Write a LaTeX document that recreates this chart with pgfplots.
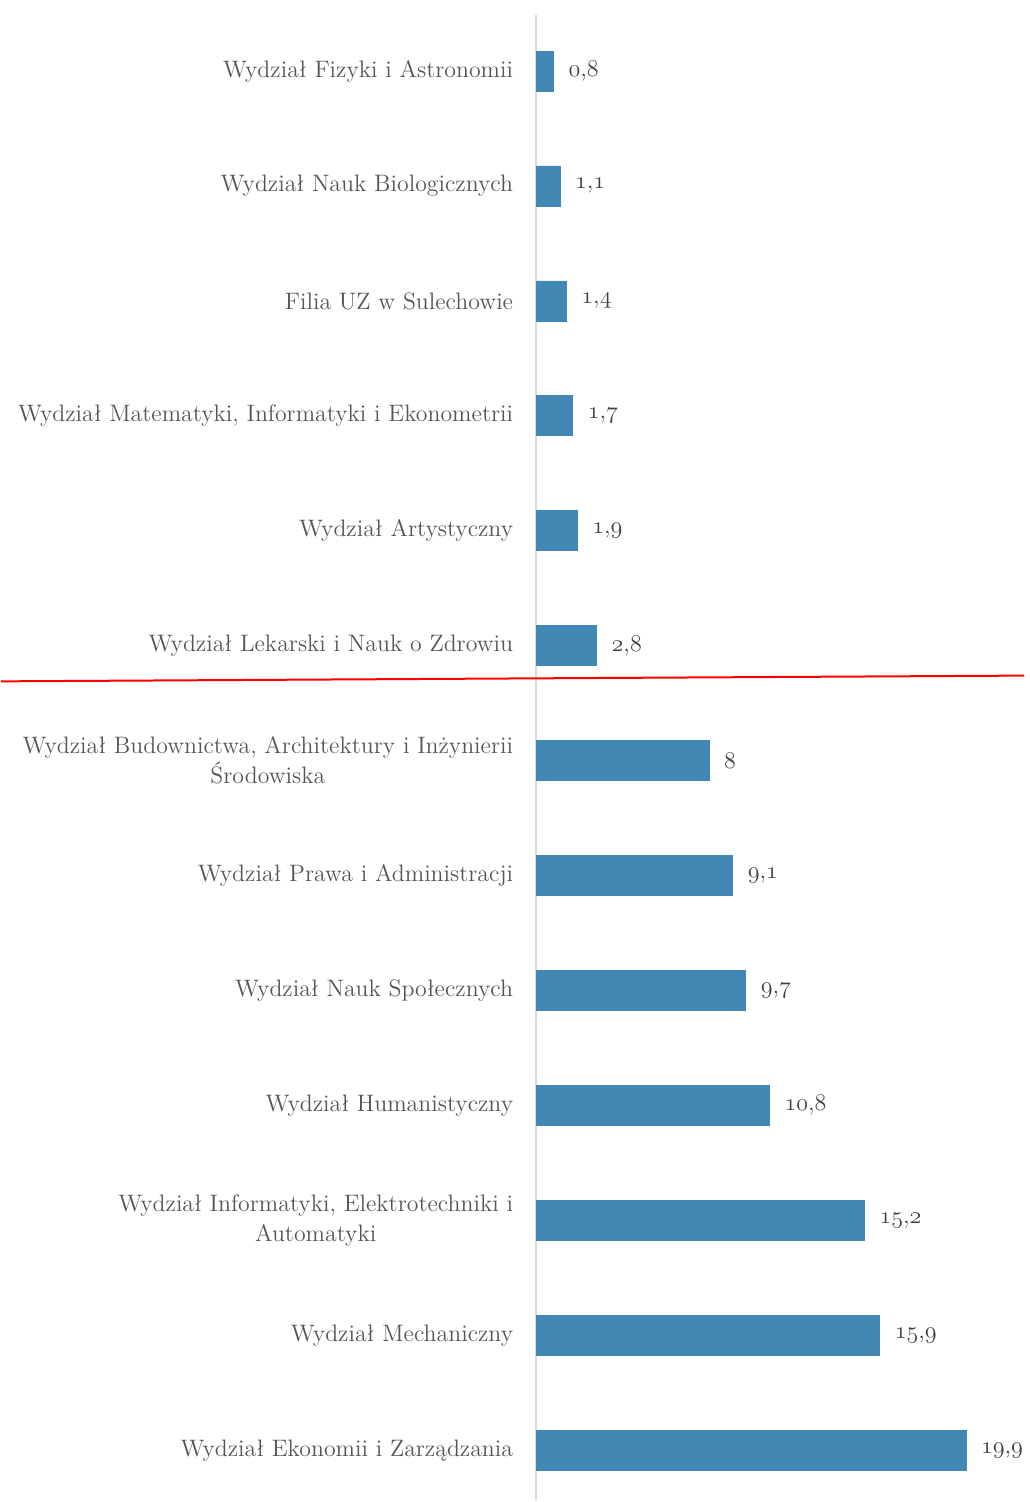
\documentclass[border=0pt]{standalone}
\usepackage{fontspec}
\usepackage{pgfplots}
\pgfplotsset{compat=1.18}
\definecolor{BarBlue}{HTML}{4189B4}
\definecolor{LabelGray}{HTML}{555555}
\definecolor{ValGray}{HTML}{404040}
\definecolor{AxisGray}{HTML}{D9D9D9}
% old-style figures taken from the math italic font
\newcommand\osf[1]{{\fontencoding{OML}\fontfamily{cmm}\fontseries{m}\fontshape{it}\selectfont #1}}
\newcommand\osn[2]{\osf{#1},\osf{#2}}
\begin{document}
\begin{tikzpicture}
\begin{axis}[
  xbar,
  scale only axis,
  width=244pt,
  height=742.5pt,
  xmin=0, xmax=22.59,
  ymin=-0.487, ymax=12.435,
  y dir=reverse,
  bar width=20pt,
  axis x line=none,
  axis y line*=left,
  y axis line style={draw=AxisGray, line width=1pt},
  ytick={0,...,12},
  major tick length=0pt,
  yticklabels={
    {Wydział Fizyki i Astronomii},
    {Wydział Nauk Biologicznych},
    {Filia UZ w Sulechowie},
    {Wydział Matematyki, Informatyki i Ekonometrii},
    {Wydział Artystyczny},
    {Wydział Lekarski i Nauk o Zdrowiu},
    {Wydział Budownictwa, Architektury i Inżynierii\\Środowiska},
    {Wydział Prawa i Administracji},
    {Wydział Nauk Społecznych},
    {Wydział Humanistyczny},
    {Wydział Informatyki, Elektrotechniki i\\Automatyki},
    {Wydział Mechaniczny},
    {Wydział Ekonomii i Zarządzania}},
  yticklabel style={align=center, font=\fontsize{11.9}{15}\selectfont, text=LabelGray, xshift=-8pt},
  point meta=explicit symbolic,
  nodes near coords,
  nodes near coords style={anchor=west, font=\fontsize{12}{14}\selectfont, text=ValGray, xshift=4pt},
  clip=false
]
\addplot[fill=BarBlue, draw=BarBlue] coordinates {
  (0.8,0) [\osn{0}{8}]
  (1.1,1) [\osn{1}{1}]
  (1.4,2) [\osn{1}{4}]
  (1.7,3) [\osn{1}{7}]
  (1.9,4) [\osn{1}{9}]
  (2.8,5) [\osn{2}{8}]
  (8,6) [8]
  (9.1,7) [\osn{9}{1}]
  (9.7,8) [\osn{9}{7}]
  (10.8,9) [\osn{10}{8}]
  (15.2,10) [\osn{15}{2}]
  (15.9,11) [\osn{15}{9}]
  (19.9,12) [\osn{19}{9}]
};
\draw[red, line width=1pt] (axis cs:-24.77,5.31) -- (axis cs:22.59,5.26);
\path (axis cs:0,-0.618) (axis cs:0,12.45);
\end{axis}
\end{tikzpicture}
\end{document}
